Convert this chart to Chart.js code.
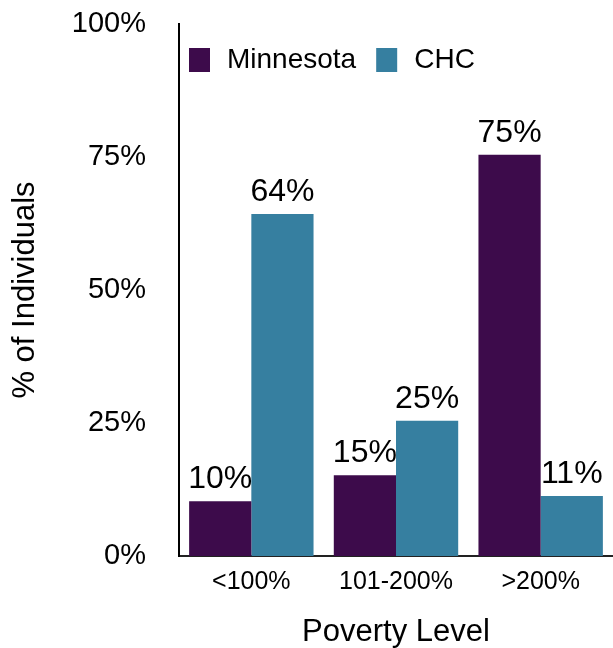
<!DOCTYPE html>
<html>
<head>
<meta charset="utf-8">
<script src="https://cdn.jsdelivr.net/npm/chart.js@4.4.1/dist/chart.umd.min.js"></script>
<style>
  html, body { margin: 0; padding: 0; background: #fff; }
  #chart { display: block; }
</style>
</head>
<body>
<canvas id="chart" width="613" height="648"></canvas>
<script>
// Poverty level categories and the share of individuals in each
const categories = ['<100%', '101-200%', '>200%'];
const minnesota = [10.3, 15.2, 75.4];
const chc = [64.3, 25.4, 11.3];
const yTicks = [0, 25, 50, 75, 100];

const purple = '#3d0b4b';
const teal = '#367fa0';
const font = '"Liberation Sans", Arial, Helvetica, sans-serif';

// value labels above each bar
const barLabels = {
  id: 'barLabels',
  afterDatasetsDraw(chart) {
    const ctx = chart.ctx;
    ctx.save();
    ctx.font = '32px ' + font;
    ctx.fillStyle = '#000';
    ctx.textAlign = 'center';
    ctx.textBaseline = 'alphabetic';
    chart.data.datasets.forEach((ds, i) => {
      chart.getDatasetMeta(i).data.forEach((bar, j) => {
        ctx.fillText(Math.round(ds.data[j]) + '%', bar.x, bar.y - 13);
      });
    });
    ctx.restore();
  }
};

// legend drawn inside the plot area, top left
const insideLegend = {
  id: 'insideLegend',
  afterDraw(chart) {
    const ctx = chart.ctx;
    const area = chart.chartArea;
    ctx.save();
    ctx.font = '28px ' + font;
    ctx.textBaseline = 'middle';
    ctx.textAlign = 'left';
    let x = area.left + 10;
    const y = 60;
    chart.data.datasets.forEach(ds => {
      ctx.fillStyle = ds.backgroundColor;
      ctx.fillRect(x, y - 12, 21, 24);
      x += 21 + 17;
      ctx.fillStyle = '#000';
      ctx.fillText(ds.label, x, y);
      x += ctx.measureText(ds.label).width + 20;
    });
    ctx.restore();
  }
};

new Chart(document.getElementById('chart'), {
  type: 'bar',
  data: {
    labels: categories,
    datasets: [
      { label: 'Minnesota', data: minnesota, backgroundColor: purple },
      { label: 'CHC', data: chc, backgroundColor: teal }
    ]
  },
  options: {
    responsive: false,
    animation: false,
    layout: { padding: { top: 0, right: 0, left: 0, bottom: 0 } },
    datasets: { bar: { categoryPercentage: 0.86, barPercentage: 1.0 } },
    plugins: {
      legend: { display: false },
      tooltip: { enabled: false }
    },
    scales: {
      x: {
        grid: { display: false, drawTicks: false },
        border: { display: true, color: '#222', width: 2 },
        ticks: { color: '#000', padding: 11, font: { family: font, size: 25 } },
        title: {
          display: true,
          text: 'Poverty Level',
          color: '#000',
          font: { family: font, size: 31, lineHeight: 1 },
          padding: { top: 0, bottom: 0 }
        },
        afterFit(scale) { scale.height = 92; }
      },
      y: {
        min: 0,
        max: 100,
        grid: { display: false, drawTicks: false },
        border: { display: true, color: '#000', width: 2 },
        afterBuildTicks(scale) { scale.ticks = yTicks.map(v => ({ value: v })); },
        ticks: {
          color: '#000',
          padding: 33,
          font: { family: font, size: 29 },
          callback: v => v + '%'
        },
        title: {
          display: true,
          text: '% of Individuals',
          color: '#000',
          font: { family: font, size: 31 },
          padding: { top: 7, bottom: 0 }
        },
        afterFit(scale) {
          scale.width = 179;
          scale.paddingTop = 24;
          scale.paddingBottom = 0;
        }
      }
    }
  },
  plugins: [barLabels, insideLegend]
});
</script>
</body>
</html>
